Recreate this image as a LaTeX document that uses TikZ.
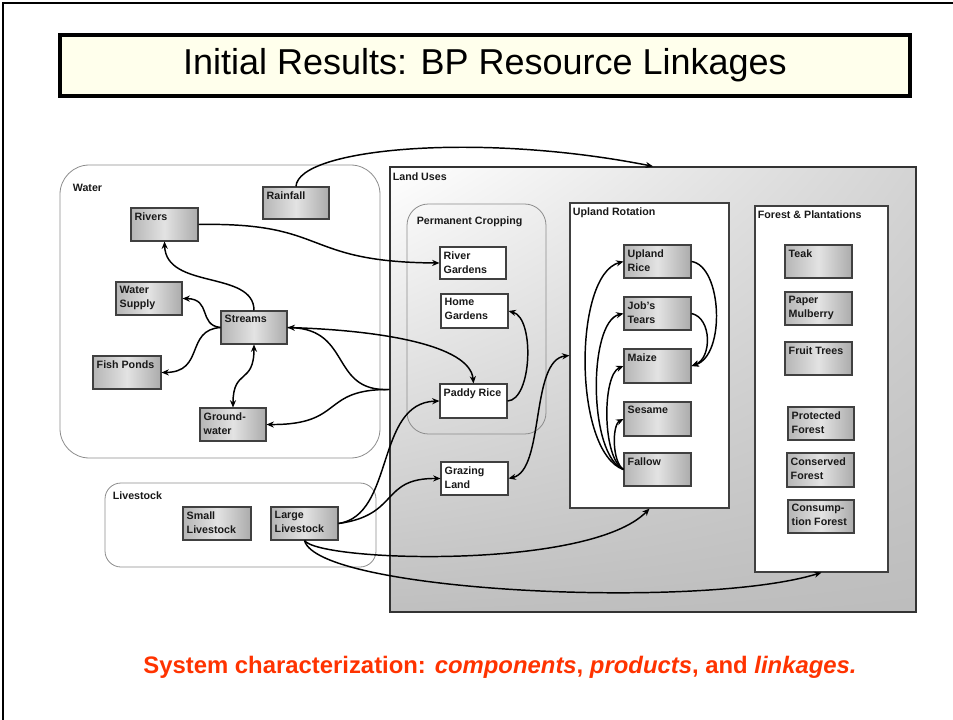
\documentclass[tikz,border=0pt]{standalone}
\usepackage{fontspec}
\setmainfont{Liberation Sans}
\usetikzlibrary{arrows.meta,fit,shadings}
\definecolor{titlefill}{RGB}{255,255,236}
\definecolor{capred}{RGB}{255,51,0}

\begin{document}
\begin{tikzpicture}[x=0.75pt,y=-0.75pt,
  txt/.style={font=\fontsize{8}{10.5}\selectfont\bfseries, align=left,
    inner xsep=3pt, inner ysep=3.6pt, anchor=north west, text=black!90},
  boxbase/.style={draw=black!75, line width=0.8pt, inner sep=0pt},
  gbox/.style={boxbase, left color=black!29, right color=black!33, middle color=black!11},
  wbox/.style={boxbase, fill=white},
  grp/.style={draw=black!45, line width=0.6pt, rounded corners=#1, inner sep=0pt},
  tip/.style={-{Stealth[length=5.5pt,width=4.6pt]}},
  arr/.style={line width=1.1pt, tip},
  darr/.style={line width=1.1pt, {Stealth[length=5.5pt,width=4.6pt]}-{Stealth[length=5.5pt,width=4.6pt]}},
]
\useasboundingbox (0,0) rectangle (953,720);

% page frame
\draw[line width=1.5pt] (3,720) -- (3,3) -- (953,3);

% title
\node[draw, line width=2.3pt, fill=titlefill, inner sep=0pt,
      fit={(60,35) (910,96)}] (title) {};
\node[font=\fontsize{27}{32}\selectfont] at (title.center) {Initial Results: BP Resource Linkages};

% ---------- groups ----------
\node[grp=22pt, fit={(60,165) (380,458)},
      label={[txt, inner xsep=9.75pt, inner ysep=14.5pt]north west:Water}] (water) {};
\node[grp=12pt, fit={(105,483) (376,567)},
      label={[txt, inner xsep=6pt, inner ysep=6.5pt]north west:Livestock}] (live) {};

\node[draw=black!80, line width=1pt, inner sep=0pt,
      upper left=white, upper right=black!17, lower left=black!25, lower right=black!26,
      fit={(390,167) (916,612)},
      label={[txt, inner xsep=2.4pt, inner ysep=4.5pt]north west:Land Uses}] (land) {};
\node[grp=16pt, fit={(407,204) (546,434)},
      label={[txt, inner xsep=7.5pt, inner ysep=9.5pt]north west:Permanent Cropping}] (perm) {};
\node[wbox, fit={(570,203) (729,508)},
      label={[txt, inner xsep=2.4pt]north west:Upland Rotation}] (upland) {};
\node[wbox, fit={(755,206) (888,572)},
      label={[txt, inner xsep=2.4pt]north west:Forest \& Plantations}] (forest) {};

% ---------- water ----------
\node[gbox, fit={(263,187) (329,219)}, label={[txt]north west:Rainfall}] (rain) {};
\node[gbox, fit={(131,208) (198,241)}, label={[txt]north west:Rivers}] (rivers) {};
\node[gbox, fit={(116,282) (182,315)}, label={[txt]north west:Water\\Supply}] (ws) {};
\node[gbox, fit={(221,311) (287,344)}, label={[txt]north west:Streams}] (streams) {};
\node[gbox, fit={(93,356) (161,389)}, label={[txt]north west:Fish Ponds}] (fp) {};
\node[gbox, fit={(200,408) (266,441)}, label={[txt]north west:Ground-\\water}] (gw) {};

% ---------- livestock ----------
\node[gbox, fit={(183,507) (251,540)}, label={[txt]north west:Small\\Livestock}] (ss) {};
\node[gbox, fit={(271,507) (338,540)}, label={[txt]north west:Large\\Livestock}] (ll) {};

% ---------- permanent cropping ----------
\node[wbox, fit={(440,247) (506,279)}, label={[txt]north west:River\\Gardens}] (rg) {};
\node[wbox, fit={(441,294) (508,328)}, label={[txt]north west:Home\\Gardens}] (home) {};
\node[wbox, fit={(440,384) (507,418)}, label={[txt]north west:Paddy Rice}] (paddy) {};
\node[wbox, fit={(441,462) (508,495)}, label={[txt]north west:Grazing\\Land}] (graz) {};

% ---------- upland rotation ----------
\node[gbox, fit={(624,245) (691,278)}, label={[txt]north west:Upland\\Rice}] (ur) {};
\node[gbox, fit={(624,297) (691,330)}, label={[txt]north west:Job's\\Tears}] (jt) {};
\node[gbox, fit={(624,349) (691,383)}, label={[txt]north west:Maize}] (maize) {};
\node[gbox, fit={(624,402) (691,436)}, label={[txt]north west:Sesame}] (ses) {};
\node[gbox, fit={(624,453) (691,486)}, label={[txt]north west:Fallow}] (fal) {};

% ---------- forest & plantations ----------
\node[gbox, fit={(785,245) (852,278)}, label={[txt]north west:Teak}] (teak) {};
\node[gbox, fit={(785,292) (852,325)}, label={[txt]north west:Paper\\Mulberry}] (pm) {};
\node[gbox, fit={(785,342) (852,375)}, label={[txt]north west:Fruit Trees}] (ft) {};
\node[gbox, fit={(788,407) (854,440)}, label={[txt]north west:Protected\\Forest}] (pf) {};
\node[gbox, fit={(787,453) (854,487)}, label={[txt]north west:Conserved\\Forest}] (cf) {};
\node[gbox, fit={(788,500) (854,533)}, label={[txt]north west:Consump-\\tion Forest}] (csf) {};

% ---------- linkages ----------
\draw[arr] (rain.north) .. controls (298,148) and (480,132) .. (land.north);
\draw[arr] (rivers.east) .. controls (330,222) and (300,262) .. (rg.west);
\draw[arr] (streams.north) .. controls (254,270) and (166,290) .. (rivers.south);
\draw[arr] (streams.west) .. controls (198,325) and (212,299) .. (ws.east);
\draw[arr] (streams.west) .. controls (185,330) and (205,372) .. (fp.east);
\draw[darr] (streams.south) .. controls (254,385) and (233,368) .. (gw.north);
\draw[arr] (land.west) .. controls (330,392) and (352,330) .. (streams.east);
\draw[arr] (land.west) .. controls (320,389) and (345,425) .. (gw.east);
\draw[arr] (streams.east) .. controls (380,330) and (470,345) .. (paddy.north);
\draw[arr] (paddy.east) .. controls (532,400) and (535,318) .. (home.east);
\draw[arr] (ll.east) .. controls (395,515) and (375,403) .. (paddy.west);
\draw[arr] (ll.east) .. controls (400,515) and (380,478) .. (graz.west);
\draw[darr] (graz.east) .. controls (545,470) and (530,360) .. (upland.west);
\draw[arr] (ll.south) .. controls (320,562) and (590,570) .. (upland.south);
\draw[arr] (ll.south) .. controls (318,592) and (700,610) .. (forest.south);

% crop rotation
\draw[arr] (ur.east) .. controls (722,266) and (726,355) .. (maize.east);
\draw[arr] (jt.east) .. controls (712,318) and (712,358) .. (maize.east);
\draw[arr] (fal.west) .. controls (573,452) and (573,275) .. (ur.west);
\draw[arr] (fal.west) .. controls (588,455) and (588,322) .. (jt.west);
\draw[arr] (fal.west) .. controls (602,458) and (602,375) .. (maize.west);
\draw[arr] (fal.west) .. controls (612,462) and (612,425) .. (ses.west);

% caption
\node[font=\fontsize{17.9}{21}\selectfont\bfseries, text=capred] (cap) at (500,667)
  {System characterization: \textit{components}, \textit{products}, and \textit{linkages.}};
\end{tikzpicture}
\end{document}
